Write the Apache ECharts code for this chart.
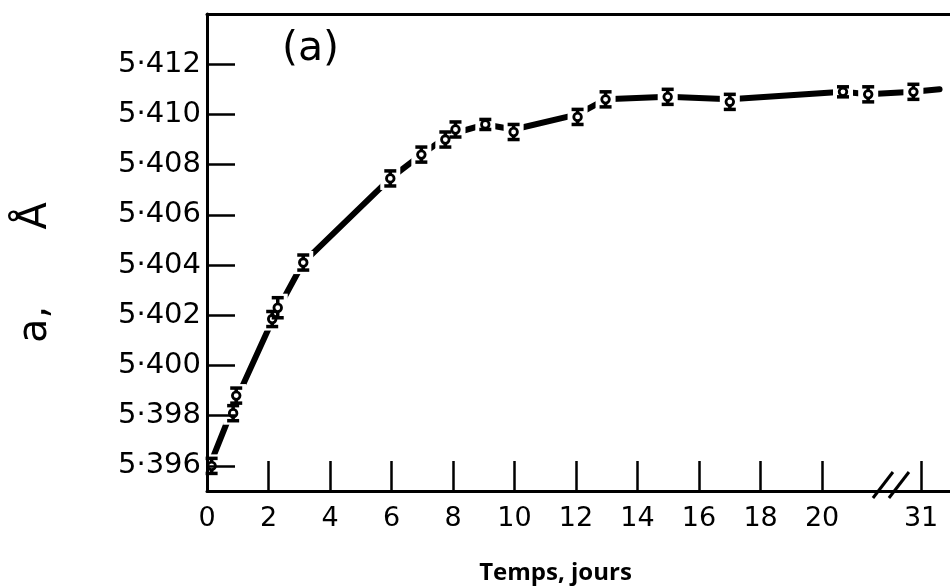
<!DOCTYPE html>
<html>
<head>
<meta charset="utf-8">
<script src="https://cdn.jsdelivr.net/npm/echarts@6/dist/echarts.min.js"></script>
<style>html,body{margin:0;padding:0;background:#fff;}#chart{width:950px;height:586px;}</style>
</head>
<body>
<div id="chart"></div>
<script>
// ---- data ----
const days   = [0.15, 0.85, 0.95, 2.12, 2.3, 3.13, 5.96, 6.97, 7.75, 8.08, 9.05, 9.97, 12.05, 12.96, 14.98, 17.0, 20.68, 21.5, 30.75];
const aValues = [5.3960, 5.3981, 5.3988, 5.40185, 5.4023, 5.4041, 5.40745, 5.4084, 5.4090, 5.4094, 5.4096, 5.4093, 5.4099, 5.4106, 5.4107, 5.4105, 5.4109, 5.4108, 5.4109];
const aErrors = [0.0003, 0.0003, 0.0003, 0.0003, 0.0004, 0.0003, 0.0003, 0.0003, 0.0003, 0.0003, 0.0002, 0.0003, 0.0003, 0.0003, 0.0003, 0.0003, 0.0002, 0.0003, 0.0003];
// fitted curve through the points (continues a little past the last point)
const curveDays   = [0.0, 0.15, 0.9, 2.2, 3.13, 5.96, 6.97, 7.9, 9.05, 9.97, 12.05, 12.96, 14.98, 17.0, 20.68, 21.5, 30.75, 31.6];
const curveValues = [5.3958, 5.3962, 5.3985, 5.4020, 5.4041, 5.40745, 5.4084, 5.4092, 5.4096, 5.4094, 5.4100, 5.4106, 5.4107, 5.4106, 5.4109, 5.4108, 5.4109, 5.4110];
const xTickDays   = [0, 2, 4, 6, 8, 10, 12, 14, 16, 18, 20, 31];
const xTickLabels = ['0', '2', '4', '6', '8', '10', '12', '14', '16', '18', '20', '31'];
const yTicks      = [5.396, 5.398, 5.400, 5.402, 5.404, 5.406, 5.408, 5.410, 5.412];
const yTickLabels = ['5·396', '5·398', '5·400', '5·402', '5·404', '5·406', '5·408', '5·410', '5·412'];

// broken time axis: days 22..30 are cut out
const BREAK_FROM = 22, AFTER_DAY = 31, AFTER_POS = 23.22;
function toPlot(d) { return d <= BREAK_FROM ? d : d - AFTER_DAY + AFTER_POS; }
const xTickPos = xTickDays.map(toPlot);
const pointData = days.map((d, i) => [toPlot(d), aValues[i], aErrors[i]]);

const chart = echarts.init(document.getElementById('chart'));
const FONT = 'DejaVu Sans';
const option = {
  backgroundColor: '#fff',
  animation: false,
  grid: { left: 207, right: 0, top: 14, bottom: 95, containLabel: false, outerBoundsMode: 'none' },
  xAxis: [{
    type: 'value', min: 0, max: 24.16,
    name: 'Temps, jours', nameLocation: 'middle', nameGap: 70,
    nameTextStyle: { fontFamily: 'Open Sans', fontWeight: 'bold', fontSize: 24, color: '#000', padding: [0, 46, 0, 0] },
    axisLine: { show: true, onZero: false, lineStyle: { color: '#000', width: 3 } },
    axisTick: { show: true, inside: true, length: 30, customValues: xTickPos, lineStyle: { color: '#000', width: 2.5 } },
    axisLabel: { show: true, customValues: xTickPos, margin: 14, fontFamily: FONT, fontSize: 27, color: '#000',
      formatter: function (v) { const i = xTickPos.findIndex(p => Math.abs(p - v) < 1e-6); return i >= 0 ? xTickLabels[i] : ''; } },
    splitLine: { show: false }
  }, {
    type: 'value', position: 'top', min: 0, max: 24.16,
    axisLine: { show: true, onZero: false, lineStyle: { color: '#000', width: 3 } },
    axisTick: { show: false }, axisLabel: { show: false }, splitLine: { show: false }
  }],
  yAxis: {
    type: 'value', min: 5.395, max: 5.414, z: 5,
    name: 'a,      Å', nameLocation: 'middle', nameRotate: 90, nameGap: 151,
    nameTextStyle: { fontFamily: FONT, fontSize: 40, color: '#000', padding: [0, 40, 0, 0] },
    axisLine: { show: true, onZero: false, lineStyle: { color: '#000', width: 3 } },
    axisTick: { show: true, inside: true, length: 28, customValues: yTicks, lineStyle: { color: '#000', width: 2.5 } },
    axisLabel: { show: true, customValues: yTicks, margin: 6, fontFamily: FONT, fontSize: 29, color: '#000',
      formatter: function (v) { const i = yTicks.findIndex(t => Math.abs(t - v) < 1e-7); return i >= 0 ? yTickLabels[i] : ''; } },
    splitLine: { show: false }
  },
  series: [{
    type: 'line', name: 'curve', z: 2,
    data: curveDays.map((d, i) => [toPlot(d), curveValues[i]]),
    symbol: 'none', smooth: false,
    lineStyle: { color: '#000', width: 6, cap: 'round' }
  }, {
    // white gap of the curve around each measured point
    type: 'custom', name: 'gaps', z: 3, silent: true,
    data: pointData,
    renderItem: function (params, api) {
      const x = api.value(0), y = api.value(1), e = api.value(2);
      const c = api.coord([x, y]);
      const t = api.coord([x, y + e]);
      const b = api.coord([x, y - e]);
      return { type: 'rect', shape: { x: c[0] - 10, y: t[1] - 4, width: 20, height: b[1] - t[1] + 8 }, style: { fill: '#fff' } };
    }
  }, {
    type: 'custom', name: 'points', z: 4,
    data: pointData,
    renderItem: function (params, api) {
      const x = api.value(0), y = api.value(1), e = api.value(2);
      const c = api.coord([x, y]);
      const t = api.coord([x, y + e]);
      const b = api.coord([x, y - e]);
      const st = { stroke: '#000', lineWidth: 3.5 };
      return { type: 'group', children: [
        { type: 'line', shape: { x1: c[0], y1: t[1], x2: c[0], y2: b[1] }, style: st },
        { type: 'line', shape: { x1: c[0] - 6, y1: t[1], x2: c[0] + 6, y2: t[1] }, style: st },
        { type: 'line', shape: { x1: c[0] - 6, y1: b[1], x2: c[0] + 6, y2: b[1] }, style: st },
        { type: 'circle', shape: { cx: c[0], cy: c[1], r: 3.8 }, style: { fill: '#fff', stroke: '#000', lineWidth: 2.8 } }
      ] };
    }
  }]
};
chart.setOption(option);

// "(a)" panel label and axis break marks
const p0 = chart.convertToPixel({ xAxisIndex: 0, yAxisIndex: 0 }, [BREAK_FROM - 0.02, 5.395]);
const p1 = chart.convertToPixel({ xAxisIndex: 0, yAxisIndex: 0 }, [BREAK_FROM + 0.5, 5.395]);
function slash(px, py) {
  return { type: 'line', z: 10, shape: { x1: px - 10, y1: py + 10, x2: px + 10, y2: py - 16 }, style: { stroke: '#000', lineWidth: 3 } };
}
chart.setOption({ graphic: [
  { type: 'text', left: 282, top: 29, z: 10, style: { text: '(a)', font: '41px "DejaVu Sans"', fill: '#000' } },
  slash(p0[0], p0[1] - 3),
  slash(p1[0], p1[1] - 3)
] });
</script>
</body>
</html>
